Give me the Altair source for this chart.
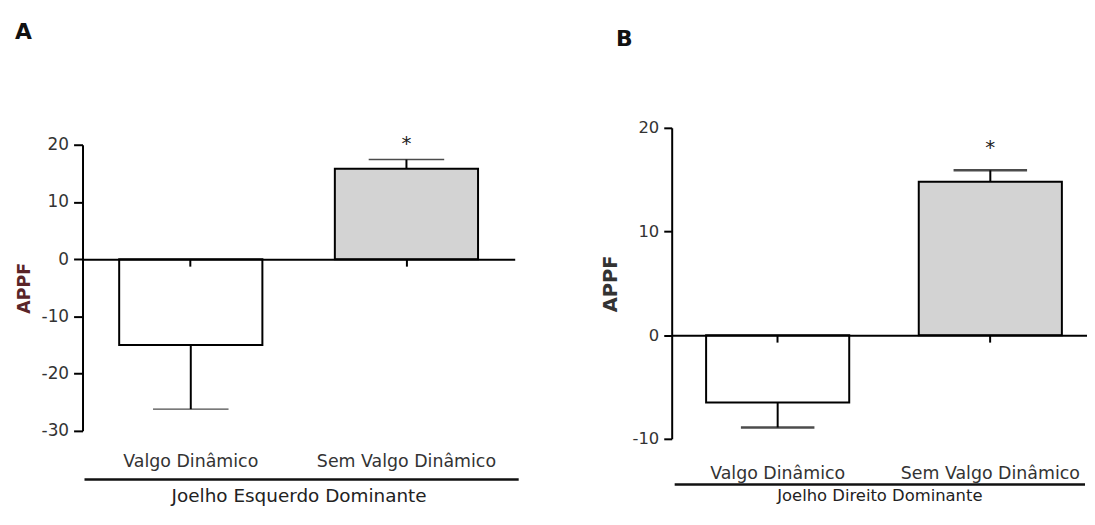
import altair as alt
import pandas as pd

# ---- data ----
categories = ["Valgo Dinâmico", "Sem Valgo Dinâmico"]
fills = ["#ffffff", "#d3d3d3"]
sig = ["", "*"]

# Panel A: Joelho Esquerdo Dominante
mean_a = [-15.0, 15.8]
err_a = [11.2, 1.6]
# Panel B: Joelho Direito Dominante
mean_b = [-6.5, 14.8]
err_b = [2.4, 1.1]

ticks_a = [-30, -20, -10, 0, 10, 20]
ticks_b = [-10, 0, 10, 20]

FONT = "DejaVu Sans"


def frame(means, errs):
    df = pd.DataFrame({"cat": categories, "mean": means, "err": errs,
                       "fill": fills, "sig": sig})
    df["end"] = [m + (e if m >= 0 else -e) for m, e in zip(means, errs)]
    return df


def panel(df, xtitle, xtitle_size, ydom, yvals, W, H, pin, pout, align, tick_y,
          ylab_size, lab_pad, ttl_pad, ytitle_size, ytitle_color, ytitle_pad,
          cap_w, cap_t, sep_dy, sep_x0, sep_x2, star_dy):
    zero_off = -H * (0 - ydom[0]) / (ydom[1] - ydom[0])
    xscale = alt.Scale(paddingInner=pin, paddingOuter=pout, align=align)
    x_axis = alt.Axis(orient="bottom", offset=zero_off, domainColor="black",
                      domainWidth=2, tickColor="black", tickWidth=2, tickSize=7,
                      labelAngle=0, labelPadding=lab_pad, labelFont=FONT,
                      labelFontSize=17.5, labelColor="#333333", labelBaseline="top",
                      labelLimit=0,
                      title=xtitle, titleFont=FONT, titleFontSize=xtitle_size,
                      titleFontWeight="normal", titleColor="#222222",
                      titlePadding=ttl_pad, zindex=1)
    y_axis = alt.Axis(orient="left", values=yvals, domainColor="black", domainWidth=2,
                      tickColor="black", tickWidth=2, tickSize=tick_y, labelPadding=5,
                      labelExpr="'' + datum.value",
                      labelFont=FONT, labelFontSize=ylab_size, labelColor="#333333",
                      title="APPF", titleFont=FONT, titleFontSize=ytitle_size,
                      titleFontWeight="bold", titleColor=ytitle_color,
                      titlePadding=ytitle_pad, grid=False, zindex=1)
    yscale = alt.Scale(domain=ydom, nice=False, zero=False)

    base = alt.Chart(df)
    bars = base.mark_bar(stroke="black", strokeWidth=2).encode(
        x=alt.X("cat:N", sort=categories, scale=xscale, axis=x_axis),
        y=alt.Y("mean:Q", scale=yscale, axis=y_axis),
        y2=alt.datum(0),
        fill=alt.Fill("fill:N", scale=None),
    )
    stems = base.mark_rule(color="black", strokeWidth=2).encode(
        x=alt.X("cat:N", sort=categories),
        y=alt.Y("mean:Q"),
        y2="end:Q",
    )
    caps = base.mark_tick(orient="horizontal", color="black", size=cap_w,
                          thickness=cap_t).encode(
        x=alt.X("cat:N", sort=categories),
        y=alt.Y("end:Q"),
    )
    stars = base.mark_text(font=FONT, fontSize=20, color="#222222", baseline="middle",
                           dy=star_dy).encode(
        x=alt.X("cat:N", sort=categories),
        y=alt.Y("end:Q"),
        text="sig:N",
    )
    sep = base.mark_rule(color="#111111", strokeWidth=2.5).encode(
        x=alt.value(sep_x0), x2=alt.value(W + sep_x2), y=alt.value(H + sep_dy)
    ).transform_filter("datum.sig == '*'")

    return alt.layer(bars, stems, caps, stars, sep).properties(width=W, height=H)


def spacer(letter, W, h, dx, dy):
    return alt.Chart(pd.DataFrame({"v": [0]})).mark_point(opacity=0, size=0).properties(
        width=W, height=h,
        title=alt.TitleParams(letter, anchor="start", frame="group", dx=dx, dy=dy,
                              fontSize=22, fontWeight="bold", font=FONT,
                              color="#111111", offset=0),
    )


W_A, H_A = 435, 288
W_B, H_B = 418, 313

chart_a = panel(frame(mean_a, err_a), "Joelho Esquerdo Dominante", 18.5,
                [-30, 20], ticks_a, W_A, H_A, 0.336, 0.17, 0.5, 9, 17, 187.5, 29, 17.5,
                "#5a2428", 8, 76, 1.5, 49, 2, 4, -16)
chart_b = panel(frame(mean_b, err_b), "Joelho Direito Dominante", 16.5,
                [-10, 20], ticks_b, W_B, H_B, 0.327, 0.14, 0.578, 8, 16.5, 123, 6, 19.5,
                "#333333", 12, 74, 2.5, 46, 3, -2, -22.5)

col_a = alt.vconcat(spacer("A", W_A, 88.3, -68, 0), chart_a, spacing=0)
col_b = alt.vconcat(spacer("B", W_B, 76, -56, 7), chart_b, spacing=0)

chart = alt.hconcat(col_a, col_b, spacing=80).properties(
    padding={"left": 7, "top": 12, "right": 0, "bottom": 0}
).configure(font=FONT, view=alt.ViewConfig(stroke=None))

chart.save("out.html", embed_options={"renderer": "svg", "actions": False})
